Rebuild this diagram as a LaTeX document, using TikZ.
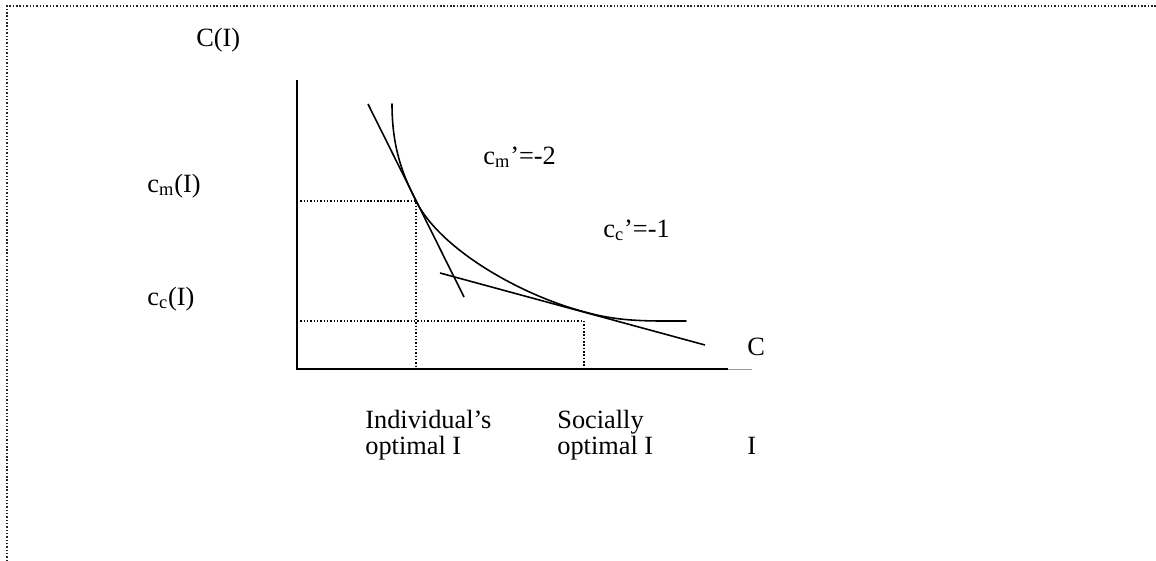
\documentclass[tikz,border=0pt]{standalone}
\usepackage{fontspec}
\setmainfont{Liberation Serif}
\usetikzlibrary{positioning}
\newcommand{\cffont}{\fontsize{15}{15}\selectfont\lineskiplimit=-20pt\relax}
\tikzset{
  cfaxis/.style ={line width=1.2pt, black},
  cfstub/.style ={line width=0.5pt, black!40},
  cfcurve/.style={line width=0.9pt, black, line cap=round},
  cftan/.style  ={line width=0.9pt, black},
  cfguide/.style={line width=0.8pt, black, dash pattern=on 0.8pt off 1.1pt},
  cfframe/.style={line width=0.8pt, black!85, dash pattern=on 0.8pt off 1.1pt},
  cflabel/.style={inner sep=0pt, font=\cffont, anchor=base west},
  cftwo/.style  ={cflabel, align=left, anchor=north west},
}

\begin{document}
\begin{tikzpicture}[x=0.02cm, y=-0.02cm]
\useasboundingbox (0,0) rectangle (1156,561);
\coordinate (fa) at (7,6); \coordinate (fb) at (1156,6); \coordinate (fc) at (7,561);
\draw[cfframe] (fc) -- (fa) -- (fb);
\coordinate (o) at (297,369); \coordinate (ytop) at (297,80);
\coordinate (xend) at (728,369); \coordinate (xstub) at (752,369);
\coordinate (pm) at (416,201); \coordinate (pc) at (584,321);
\draw[cfguide] (o |- pm) -- (pm) -- (pm |- o);
\draw[cfguide] (o |- pc) -- (pc) -- (pc |- o);
\draw[cfaxis] (ytop) -- (o) -- (xend);
\draw[cfstub] (xend) -- (xstub);
\coordinate (k0) at (392,104); \coordinate (k1) at (416,201);
\coordinate (k2) at (585,312); \coordinate (k3) at (686,321);
\draw[cfcurve] (k0) .. controls (392,150) and (404,177) .. (k1)
  .. controls (440,249) and (520,295) .. (k2)
  .. controls (620,322) and (650,321) .. (k3);
\coordinate (m0) at (368,104); \coordinate (m1) at (464,297);
\coordinate (s0) at (440,273); \coordinate (s1) at (705,345);
\draw[cftan] (m0) -- (m1);
\draw[cftan] (s0) -- (s1);
\node[cflabel] (lcap) at (196,46) {C(I)};
\node[cflabel] (lcm) at (147,192) {c\textsubscript{m}(I)};
\node[cflabel] (lcc) at (147,305) {c\textsubscript{c}(I)};
\node[cflabel] (lslm) at (483,164) {c\textsubscript{m}’=-2};
\node[cflabel] (lslc) at (603,237) {c\textsubscript{c}’=-1};
\node[cflabel] (lc) at (747,355) {C};
\node[cflabel] (li) at (747,454) {I};
\node[cftwo] (lind) at (365,410) {Individual’s\\optimal I};
\node[cftwo] (lsoc) at (557,410) {Socially\\optimal I};
\end{tikzpicture}
\end{document}
